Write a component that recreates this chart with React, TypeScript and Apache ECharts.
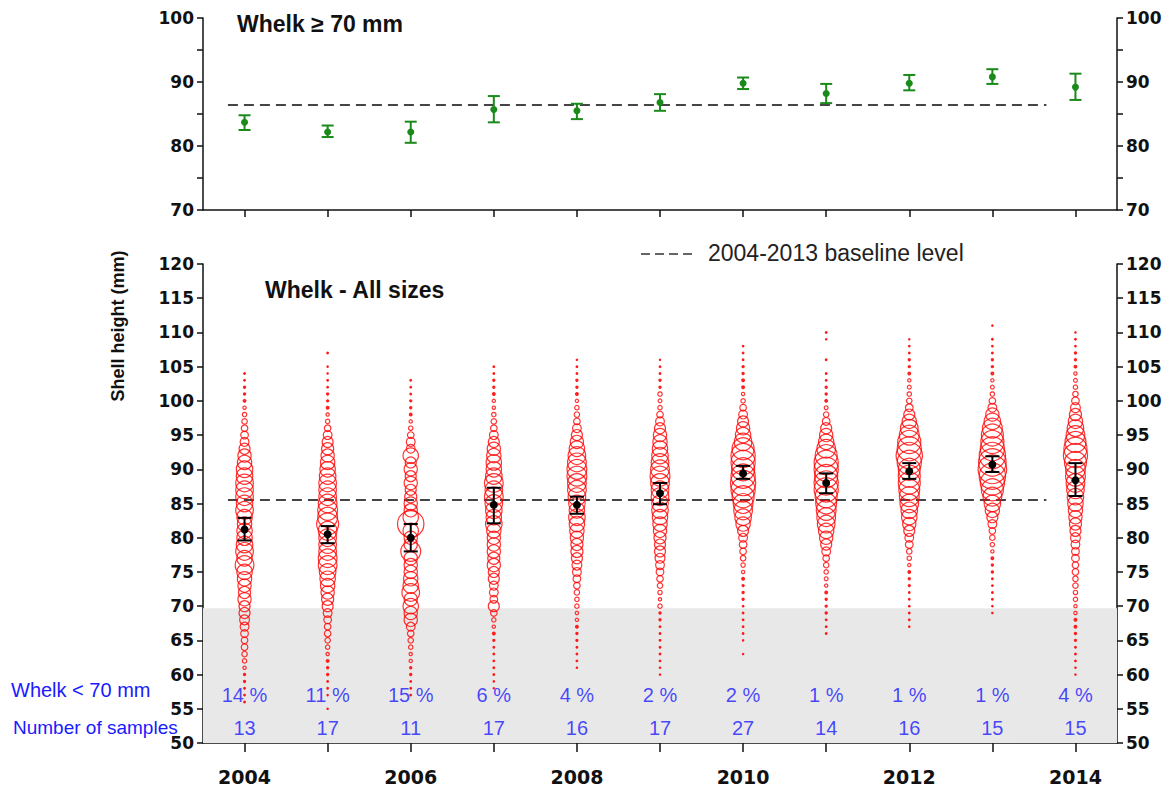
import React, { useEffect, useRef } from "react";
import * as echarts from "echarts";

// ---------- data ----------
const years = [2004, 2005, 2006, 2007, 2008, 2009, 2010, 2011, 2012, 2013, 2014];
const yearLabels = years.map(String);

// Whelk >= 70 mm : mean shell height and 95% CI
const topMean = [83.7, 82.2, 82.2, 85.7, 85.5, 86.8, 89.8, 88.2, 89.8, 90.8, 89.2];
const topLow = [82.5, 81.4, 80.5, 83.7, 84.2, 85.5, 88.9, 86.7, 88.7, 89.7, 87.2];
const topHigh = [84.8, 83.2, 83.8, 87.8, 86.6, 88.1, 90.7, 89.7, 91.1, 92.0, 91.3];

// Whelk all sizes : mean shell height and 95% CI
const botMean = [81.2, 80.5, 80.0, 84.8, 84.8, 86.5, 89.4, 88.0, 89.7, 90.7, 88.4];
const botLow = [79.6, 79.2, 78.0, 82.1, 83.5, 84.9, 88.6, 86.5, 88.6, 89.6, 86.1];
const botHigh = [82.9, 81.7, 82.0, 87.3, 86.0, 88.0, 90.5, 89.4, 90.9, 91.9, 90.9];

const topBaseline = 86.4;
const bottomBaseline = 85.5;
const baselineSpan = [2003.8, 2013.65];
const smallWhelkLimit = 69.7;

const pctBelow70 = [14, 11, 15, 6, 4, 2, 2, 1, 1, 1, 4];
const nSamples = [13, 17, 11, 17, 16, 17, 27, 14, 16, 15, 15];
const pctLabelLevel = 57.0;
const nLabelLevel = 52.2;

// length-frequency (per mille) per 1 mm class, listed from the largest size class downwards
const maxMm = [104, 107, 103, 105, 106, 106, 108, 110, 109, 111, 110];
const freq2004 = [3, 3, 4, 4, 5, 6, 8, 10, 12, 14, 16, 20, 24, 26, 30, 30, 32, 32, 32, 30, 32, 28, 26, 28, 28, 30, 32, 28, 34, 28, 26, 24, 22, 24, 20, 20, 18, 16, 14, 12, 12, 10, 8, 6, 4, 4, 3, 3, 3];
const freq2005 = [3, 0, 2.5, 2.5, 3, 3, 4, 4, 5, 6, 8, 12, 16, 20, 22, 24, 26, 28, 30, 32, 32, 32, 34, 36, 36, 40, 34, 32, 32, 32, 34, 34, 30, 28, 26, 24, 22, 20, 16, 14, 12, 12, 10, 8, 6, 5, 4, 4, 3, 3, 2.5, 0, 2.5];
const freq2006 = [3, 3, 3, 4, 4, 5, 6, 8, 12, 16, 16, 28, 20, 24, 20, 24, 20, 22, 24, 24, 28, 48, 28, 24, 24, 36, 24, 24, 24, 26, 28, 32, 24, 28, 24, 24, 16, 12, 10, 8, 6, 6, 4, 4, 3, 3, 3];
const freq2007 = [3, 3, 4, 4, 5, 6, 6, 8, 10, 12, 16, 20, 24, 26, 28, 28, 30, 34, 32, 34, 32, 30, 28, 30, 26, 24, 24, 24, 22, 24, 20, 20, 16, 16, 14, 20, 12, 8, 6, 5, 4, 3, 3, 3, 3, 3, 2.5, 2.5];
const freq2008 = [2.5, 3, 3, 4, 4, 5, 6, 8, 10, 12, 16, 20, 24, 28, 32, 34, 36, 36, 34, 34, 32, 30, 28, 30, 28, 26, 24, 22, 22, 20, 18, 16, 14, 12, 10, 8, 8, 6, 6, 5, 4, 4, 3, 3, 3, 2.5];
const freq2009 = [2.5, 3, 3, 4, 4, 8, 7, 8, 12, 16, 20, 24, 26, 28, 30, 32, 34, 36, 34, 32, 32, 30, 30, 28, 26, 24, 22, 20, 20, 18, 16, 14, 12, 10, 8, 6, 8, 4, 4, 3, 3, 3, 3, 3, 3, 2.5, 2.5];
const freq2010 = [3, 3, 3, 4, 4, 5, 5, 6, 8, 12, 16, 20, 24, 28, 32, 40, 44, 44, 42, 44, 46, 44, 40, 36, 34, 30, 26, 20, 16, 14, 12, 10, 8, 6, 5, 4, 4, 4, 3, 3, 3, 3, 3, 2.5, 0, 2.5];
const freq2011 = [3, 2.5, 0, 0, 3, 0, 3, 3, 4, 4, 5, 7, 10, 14, 20, 24, 28, 34, 40, 44, 44, 42, 44, 44, 40, 38, 36, 34, 32, 28, 24, 20, 16, 12, 10, 8, 7, 6, 5, 4, 4, 4, 3, 3, 3];
const freq2012 = [2.5, 3, 3, 4, 4, 5, 6, 7, 8, 10, 14, 20, 26, 32, 36, 42, 44, 48, 44, 40, 40, 40, 38, 36, 34, 30, 28, 24, 20, 16, 14, 10, 8, 6, 5, 4, 4, 3, 3, 3, 3, 3, 2.5];
const freq2013 = [2.5, 0, 3, 3, 3, 4, 4, 5, 6, 7, 8, 12, 16, 24, 30, 36, 40, 42, 44, 48, 50, 52, 48, 44, 40, 34, 30, 26, 20, 16, 12, 10, 8, 6, 5, 4, 4, 3, 3, 3, 3, 2.5, 2.5];
const freq2014 = [2.5, 3, 3, 4, 4, 5, 6, 7, 8, 10, 14, 18, 22, 26, 30, 34, 38, 42, 44, 40, 36, 36, 34, 32, 30, 28, 26, 24, 22, 20, 18, 16, 14, 14, 12, 12, 10, 10, 8, 8, 6, 6, 5, 5, 4, 4, 3, 3, 3, 2.5, 2.5];
const freqByYear = [freq2004, freq2005, freq2006, freq2007, freq2008, freq2009, freq2010, freq2011, freq2012, freq2013, freq2014];

// ---------- styling ----------
const RED = "#ff0000";
const GREEN = "#1a8a1a";
const BLUE = "#1a1aff";
const AXIS = "#111111";
const SIZE_PER_PERMILLE = 0.55;
const SANS = '"Liberation Sans", Arial, sans-serif';
const TICKFONT = '"DejaVu Sans", sans-serif';

function yAxis(gridIndex: number, min: number, max: number, position: string, every: number) {
  return {
    type: "value",
    gridIndex,
    min,
    max,
    interval: 5,
    position,
    splitLine: { show: false },
    axisLine: { show: true, lineStyle: { color: AXIS, width: 1.5 } },
    axisTick: { show: true, inside: false, length: 6, lineStyle: { color: AXIS, width: 1.5 } },
    axisLabel: {
      color: AXIS,
      fontWeight: "bold",
      fontFamily: TICKFONT,
      fontSize: 17,
      margin: 9,
      formatter: (v: number) => (v % every === 0 ? String(v) : ""),
    },
  };
}

function errorBars(color: string, halfCap: number, r: number) {
  return (params: any, api: any) => {
    const x = api.value(0);
    const lo = api.coord([x, api.value(1)]);
    const hi = api.coord([x, api.value(2)]);
    const m = api.coord([x, api.value(3)]);
    const st = { stroke: color, lineWidth: 2 };
    return {
      type: "group",
      children: [
        { type: "line", shape: { x1: lo[0], y1: lo[1], x2: hi[0], y2: hi[1] }, style: st },
        { type: "line", shape: { x1: lo[0] - halfCap, y1: lo[1], x2: lo[0] + halfCap, y2: lo[1] }, style: st },
        { type: "line", shape: { x1: hi[0] - halfCap, y1: hi[1], x2: hi[0] + halfCap, y2: hi[1] }, style: st },
        { type: "circle", shape: { cx: m[0], cy: m[1], r }, style: { fill: color } },
      ],
    };
  };
}

export default function App() {
  const ref = useRef<HTMLDivElement>(null);

  useEffect(() => {
    if (!ref.current) return;
    const chart = echarts.init(ref.current, undefined, { renderer: "svg" });

    const bubbles: number[][] = [];
    years.forEach((yr, i) => {
      freqByYear[i].forEach((f, j) => {
        if (f > 0) bubbles.push([yr, maxMm[i] - j, f]);
      });
    });

    const option: any = {
      animation: false,
      backgroundColor: "#ffffff",
      grid: [
        { left: 203, top: 18, width: 914, height: 192 },
        { left: 203, top: 264, width: 914, height: 479 },
      ],
      xAxis: [
        {
          type: "category",
          gridIndex: 0,
          data: yearLabels,
          boundaryGap: true,
          axisLine: { show: true, lineStyle: { color: AXIS, width: 1.5 } },
          axisTick: { show: true, alignWithLabel: true, interval: 0, length: 7, lineStyle: { color: AXIS, width: 1.5 } },
          axisLabel: { show: false },
          splitLine: { show: false },
        },
        { type: "value", gridIndex: 0, min: 2003.5, max: 2014.5, show: false },
        {
          type: "category",
          gridIndex: 1,
          data: yearLabels,
          boundaryGap: true,
          axisLine: { show: true, lineStyle: { color: AXIS, width: 1.5 } },
          axisTick: { show: true, alignWithLabel: true, interval: 0, length: 9, lineStyle: { color: AXIS, width: 1.5 } },
          axisLabel: { show: true, interval: 1, color: AXIS, fontWeight: "bold", fontFamily: TICKFONT, fontSize: 19, margin: 24 },
          splitLine: { show: false },
        },
        { type: "value", gridIndex: 1, min: 2003.5, max: 2014.5, show: false },
      ],
      yAxis: [
        yAxis(0, 70, 100, "left", 10),
        yAxis(0, 70, 100, "right", 10),
        yAxis(1, 50, 120, "left", 5),
        yAxis(1, 50, 120, "right", 5),
      ],
      series: [
        {
          name: "baseline-top",
          type: "line",
          xAxisIndex: 1,
          yAxisIndex: 0,
          data: [
            [baselineSpan[0], topBaseline],
            [baselineSpan[1], topBaseline],
          ],
          symbol: "none",
          lineStyle: { color: "#444444", width: 2, type: [10, 6] },
          z: 3,
        },
        {
          name: "err-top",
          type: "custom",
          xAxisIndex: 1,
          yAxisIndex: 0,
          data: years.map((y, i) => [y, topLow[i], topHigh[i], topMean[i]]),
          encode: { x: 0, y: [1, 2] },
          renderItem: errorBars(GREEN, 6, 3.5),
          z: 5,
        },
        {
          name: "baseline-bottom",
          type: "line",
          xAxisIndex: 3,
          yAxisIndex: 2,
          data: [
            [baselineSpan[0], bottomBaseline],
            [baselineSpan[1], bottomBaseline],
          ],
          symbol: "none",
          lineStyle: { color: "#444444", width: 2, type: [10, 6] },
          markArea: {
            silent: true,
            itemStyle: { color: "#e8e8e8" },
            data: [[{ yAxis: 50 }, { yAxis: smallWhelkLimit }]],
          },
          z: 1,
        },
        {
          name: "length-frequency",
          type: "scatter",
          xAxisIndex: 3,
          yAxisIndex: 2,
          data: bubbles,
          symbol: "circle",
          symbolSize: (v: number[]) => v[2] * SIZE_PER_PERMILLE,
          itemStyle: {
            color: (p: any) => (p.value[2] * SIZE_PER_PERMILLE < 3.2 ? RED : "rgba(255,255,255,0)"),
            borderColor: RED,
            borderWidth: 1.2,
          },
          z: 2,
        },
        {
          name: "err-bottom",
          type: "custom",
          xAxisIndex: 3,
          yAxisIndex: 2,
          data: years.map((y, i) => [y, botLow[i], botHigh[i], botMean[i]]),
          encode: { x: 0, y: [1, 2] },
          renderItem: errorBars("#000000", 7, 4),
          z: 5,
        },
        {
          name: "pct-below-70",
          type: "scatter",
          xAxisIndex: 3,
          yAxisIndex: 2,
          data: years.map((y, i) => [y, pctLabelLevel, pctBelow70[i]]),
          symbolSize: 1,
          itemStyle: { color: "rgba(0,0,0,0)" },
          label: {
            show: true,
            position: "inside",
            formatter: (p: any) => `${p.value[2]} %`,
            color: BLUE,
            fontFamily: SANS,
            fontSize: 20,
          },
          z: 6,
        },
        {
          name: "n-samples",
          type: "scatter",
          xAxisIndex: 3,
          yAxisIndex: 2,
          data: years.map((y, i) => [y, nLabelLevel, nSamples[i]]),
          symbolSize: 1,
          itemStyle: { color: "rgba(0,0,0,0)" },
          label: {
            show: true,
            position: "inside",
            formatter: (p: any) => `${p.value[2]}`,
            color: BLUE,
            fontFamily: SANS,
            fontSize: 20,
          },
          z: 6,
        },
      ],
      graphic: [
        {
          type: "text",
          x: 118,
          y: 326,
          rotation: Math.PI / 2,
          style: { text: "Shell height (mm)", fontFamily: SANS, fontWeight: "bold", fontSize: 18, fill: AXIS, align: "center", verticalAlign: "middle" },
        },
        {
          type: "text",
          x: 237,
          y: 24,
          style: { text: "Whelk \u2265 70 mm", fontFamily: SANS, fontWeight: "bold", fontSize: 23, fill: AXIS, align: "left", verticalAlign: "middle" },
        },
        {
          type: "text",
          x: 265,
          y: 290,
          style: { text: "Whelk - All sizes", fontFamily: SANS, fontWeight: "bold", fontSize: 23, fill: AXIS, align: "left", verticalAlign: "middle" },
        },
        {
          type: "line",
          shape: { x1: 641, y1: 254, x2: 697, y2: 254 },
          style: { stroke: "#333333", lineWidth: 1.5, lineDash: [9, 5] },
        },
        {
          type: "text",
          x: 708,
          y: 253,
          style: { text: "2004-2013 baseline level", fontFamily: SANS, fontSize: 23, fill: "#222222", align: "left", verticalAlign: "middle" },
        },
        {
          type: "text",
          x: 11,
          y: 690,
          style: { text: "Whelk < 70 mm", fontFamily: SANS, fontSize: 20, fill: BLUE, align: "left", verticalAlign: "middle" },
        },
        {
          type: "text",
          x: 13,
          y: 727,
          style: { text: "Number of samples", fontFamily: SANS, fontSize: 19, lineHeight: 19, fill: BLUE, align: "left", verticalAlign: "middle" },
        },
      ],
    };

    chart.setOption(option);
    return () => chart.dispose();
  }, []);

  return <div ref={ref} style={{ position: "fixed", left: 0, top: 0, width: 1173, height: 789, background: "#fff" }} />;
}
